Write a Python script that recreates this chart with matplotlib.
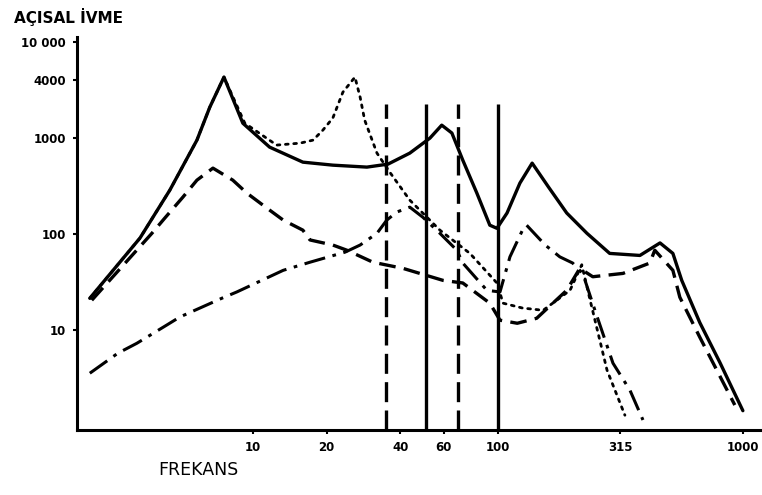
import matplotlib.pyplot as plt

# solid curve
f_solid = [2.16, 3.46, 4.58, 5.91, 6.67, 7.62, 9.10, 11.7, 16.0, 21.2, 29.2, 35.6, 43.7,
           52.8, 59.0, 64.9, 71.9, 82.1, 92.7, 99.1, 109, 123, 138, 161, 191, 231, 286,
           380, 459, 518, 563, 667, 806, 1000]
a_solid = [21.5, 91, 287, 953, 2100, 4320, 1430, 806, 562, 523, 499, 536, 698,
           1000, 1365, 1130, 590, 267, 124, 115, 166, 340, 549, 309, 166, 102, 63,
           60, 81, 63, 33, 12, 4.6, 1.45]

# dashed curve
f_dash = [2.20, 3.87, 4.37, 5.18, 5.91, 6.87, 8.28, 9.46, 11.4, 13.3, 16.0, 17.1, 21.2,
          24.2, 30.9, 41.0, 59.7, 71.9, 92.7, 102, 120, 144, 191, 216, 244, 324, 417,
          437, 518, 553, 667, 927]
a_dash = [20.5, 102, 147, 243, 365, 487, 365, 267, 187, 140, 110, 87, 77,
          68, 51, 44, 33, 31, 19.1, 12.7, 11.8, 13.3, 26, 44, 36, 39, 50,
          68, 42, 22, 8.45, 1.66]

# dotted curve
f_dot = [2.16, 3.46, 4.58, 5.91, 6.67, 7.62, 9.27, 12.5, 15.6, 17.6, 19.3, 21.2, 23.3,
         26.1, 27.4, 28.6, 32.1, 36.2, 43.7, 58.0, 76.9, 99.1, 105, 126, 153, 197, 220,
         238, 279, 330]
a_dot = [21.5, 91, 287, 953, 2100, 4320, 1430, 846, 887, 953, 1210, 1620, 3010,
         4320, 2670, 1540, 698, 442, 226, 110, 63, 31, 19.1, 17, 16.1, 26, 48,
         20.5, 3.83, 1.30]

# dash-dot curve
f_dd = [2.16, 2.81, 3.36, 4.50, 5.03, 7.47, 8.60, 13.3, 17.1, 23.8, 27.4, 32.1, 35.2,
        38.7, 43.7, 49.4, 58.0, 68.0, 71.9, 90.2, 102, 112, 126, 131, 156, 179, 202,
        222, 249, 295, 346, 391]
a_dd = [3.56, 5.75, 7.3, 11.5, 13.7, 21.5, 25, 42, 51, 65, 77, 102, 140,
        170, 191, 150, 102, 68, 50, 26, 25, 58, 110, 124, 77, 58, 50,
        39, 16.1, 4.53, 2.37, 1.16]

# vertical marker lines
v_freqs = [35, 51, 69, 100]
v_styles = ['dashed', 'solid', 'dashed', 'solid']
v_top = 2260

x_ticks = [10, 20, 40, 60, 100, 315, 1000]
x_labels = ['10', '20', '40', '60', '100', '315', '1000']
y_ticks = [10, 100, 1000, 4000, 10000]
y_labels = ['10', '100', '1000', '4000', '10 000']

fig = plt.figure(figsize=(7.62, 4.95), dpi=100)
ax = fig.add_axes([0.101, 0.131, 0.899, 0.794])
ax.set_xscale('log')
ax.set_yscale('log')
ax.set_xlim(1.914, 1197)
ax.set_ylim(0.909, 11270)

ax.plot(f_solid, a_solid, color='black', lw=2.4, ls='-', solid_capstyle='round',
        solid_joinstyle='round')
ax.plot(f_dash, a_dash, color='black', lw=2.4, ls=(0, (5, 2.5)))
ax.plot(f_dot, a_dot, color='black', lw=2.0, ls=(0, (1, 2)), dash_capstyle='round')
ax.plot(f_dd, a_dd, color='black', lw=2.2, ls=(0, (7, 2.5, 1.2, 2.5)))

for fv, st in zip(v_freqs, v_styles):
    if st == 'dashed':
        ax.vlines(fv, 0.909, v_top, color='black', lw=2.4, linestyles=(0, (6, 2.5)))
    else:
        ax.vlines(fv, 0.909, v_top, color='black', lw=2.4)

for s in ['top', 'right']:
    ax.spines[s].set_visible(False)
ax.spines['left'].set_linewidth(2.2)
ax.spines['bottom'].set_linewidth(2.2)

ax.set_xticks(x_ticks)
ax.set_xticklabels(x_labels, fontsize=8.5, fontweight='bold')
ax.set_yticks(y_ticks)
ax.set_yticklabels(y_labels, fontsize=8.5, fontweight='bold')
ax.minorticks_off()
ax.tick_params(axis='both', length=3, width=1.5, direction='out', pad=5)

fig.text(0.018, 0.965, 'AÇISAL İVME', fontsize=11, fontweight='bold', va='center')
fig.text(0.208, 0.05, 'FREKANS', fontsize=12.5, va='center')

fig.savefig('out.png', dpi=100)
